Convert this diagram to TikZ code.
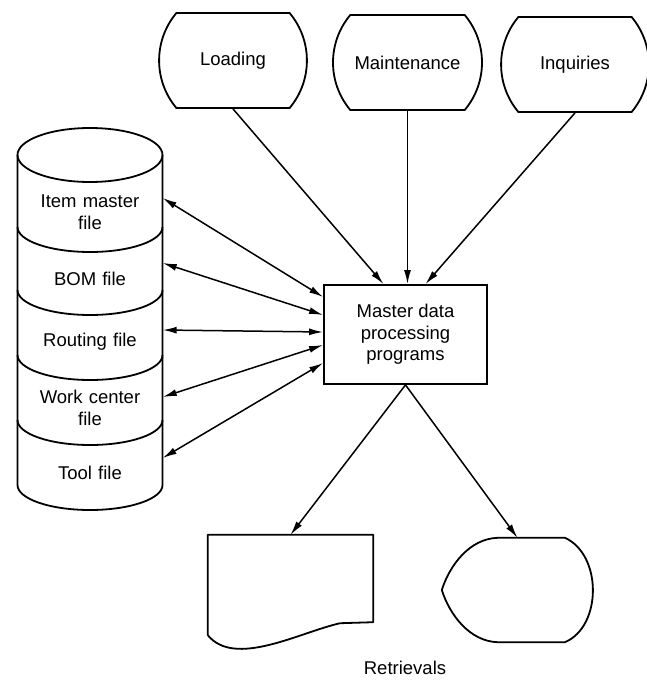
\documentclass[tikz,border=0pt]{standalone}
\usepackage{fontspec}
\setmainfont{Liberation Sans}
\usetikzlibrary{calc, arrows.meta, shapes.misc}
\tikzset{
    source/.style={rounded rectangle, rounded rectangle arc length=80, draw=black, line width=1.8pt, minimum height=95pt, inner sep=0pt},
    process/.style={rectangle, draw=black, line width=1.8pt, minimum width=163pt, minimum height=99pt, align=center},
    file/.style={text width=140pt, inner sep=2.5pt, align=center},
    sheet/.style={inner sep=0pt},
    outline/.style={draw=black, line width=1.8pt, line join=round},
    arrow/.style={-{Latex[length=14pt, width=7pt]}, line width=1.5pt},
    biarrow/.style={{Latex[length=14pt, width=7pt]}-{Latex[length=14pt, width=7pt]}, line width=1.5pt}
}

\begin{document}
\begin{tikzpicture}[x=1pt, y=-1pt, font=\fontsize{18.5}{21.5}\selectfont]
    \useasboundingbox (0,0) rectangle (647,680);

    % Inputs
    \node[source, minimum width=144pt] (Load) at (233,60.5) {Loading};
    \node[source, minimum width=149pt] (Maint) at (407.5,62.5) {Maintenance};
    \node[source, minimum width=138pt] (Inq) at (575,64.5) {Inquiries};

    % Processing
    \node[process] (Proc) at (405.5,334.5) {Master data\\processing\\programs};

    % File stack
    \draw[outline] (17.5,155) -- (17.5,485) arc[start angle=180, end angle=360, x radius=72.5pt, y radius=25pt] -- (162.5,155);
    \draw[outline] (90,155) ellipse [x radius=72.5pt, y radius=27pt];
    \draw[outline] (17.5,227) arc[start angle=180, end angle=360, x radius=72.5pt, y radius=25pt]
        (17.5,290) arc[start angle=180, end angle=360, x radius=72.5pt, y radius=25pt]
        (17.5,355) arc[start angle=180, end angle=360, x radius=72.5pt, y radius=25pt]
        (17.5,420) arc[start angle=180, end angle=360, x radius=72.5pt, y radius=25pt];
    \node[file] (Item) at (90,212) {Item master\\file};
    \node[file] (Bom) at (90,279) {BOM file};
    \node[file] (Rout) at (90,342) {Routing file};
    \node[file] (Work) at (90,408) {Work center\\file};
    \node[file] (Tool) at (90,473) {Tool file};

    % Outputs
    \node[sheet, minimum width=165pt, minimum height=87pt] (Doc) at (290.5,578.5) {};
    \draw[outline] ([yshift=-13pt]Doc.south west) -- (Doc.north west) -- (Doc.north east) -- (Doc.south east)
        -- ($(Doc.south east)+(-33,1)$) .. controls ($(Doc.south west)+(92,10)$) and ($(Doc.south west)+(27,46)$) .. ([yshift=-13pt]Doc.south west);
    \node[sheet, minimum width=151pt, minimum height=104pt] (Disp) at (517.5,590) {};
    \draw[outline] ($(Disp.north)+(-20,0)$) -- ($(Disp.north)+(47.5,0)$)
        .. controls ($(Disp.north east)+(9,17)$) and ($(Disp.south east)+(9,-16)$) .. ($(Disp.south)+(47.5,0)$)
        -- ($(Disp.south)+(-20,0)$)
        .. controls ($(Disp.south west)+(28,-1)$) and ($(Disp.south west)+(8,-27)$) .. (Disp.west)
        .. controls ($(Disp.north west)+(8,27)$) and ($(Disp.north west)+(28,1)$) .. cycle;
    \node (Ret) at (405,668) {Retrievals};

    % Connections
    \draw[arrow] (Load.south) -- ([xshift=-22pt]Proc.north);
    \draw[arrow] (Maint.south) -- (Maint.south |- Proc.north);
    \draw[arrow] (Inq.south) -- ([xshift=20pt]Proc.north);

    \draw[biarrow] ([yshift=14pt]Item.east) -- ([yshift=37.5pt]Proc.west);
    \draw[biarrow] ([yshift=16pt]Bom.east) -- ([yshift=19.5pt]Proc.west);
    \draw[biarrow] ([yshift=12pt]Rout.east) -- ([yshift=2.5pt]Proc.west);
    \draw[biarrow] ([yshift=11pt]Work.east) -- ([yshift=-10.5pt]Proc.west);
    \draw[biarrow] ([yshift=15pt]Tool.east) -- ([yshift=-28.5pt]Proc.west);

    \draw[arrow] (Proc.south) -- (Doc.north);
    \draw[arrow] (Proc.south) -- (Disp.north);

\end{tikzpicture}
\end{document}
